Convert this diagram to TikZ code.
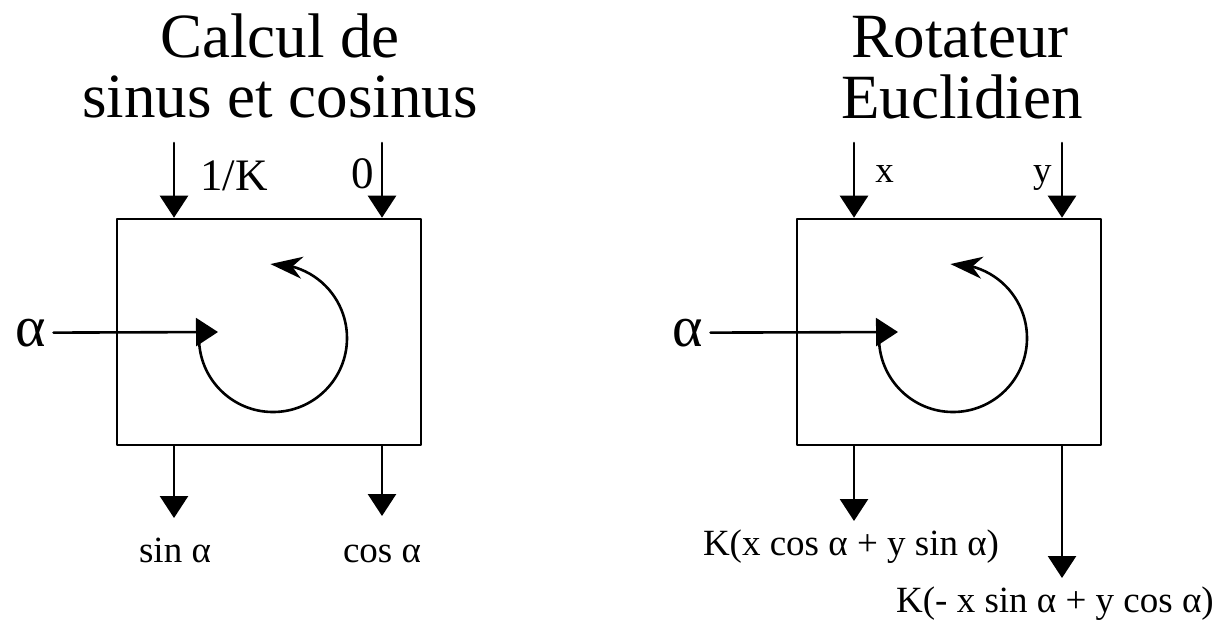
\documentclass[tikz,border=0pt]{standalone}
\usepackage{fontspec}
\setmainfont{Liberation Serif}
\usetikzlibrary{arrows.meta,bending}

\begin{document}
\begin{tikzpicture}[x=0.5pt,y=-0.5pt,line cap=round,line join=round,line width=1.3pt,
  flow/.style={-{Triangle[length=11pt,width=14pt]}},
  turn/.style={-{Stealth[length=16pt,width=11pt,inset=5pt,flex]}},
  bloc/.style={draw,minimum width=152pt,minimum height=113pt,inner sep=0pt},
  titre/.style={font=\fontsize{31.5}{36}\selectfont,inner sep=0pt,anchor=base},
  entree/.style={font=\fontsize{22.5}{26}\selectfont,inner sep=0pt},
  sortie/.style={font=\fontsize{18.5}{22}\selectfont,inner sep=0pt},
  angle/.style={font=\fontsize{29}{32}\selectfont,inner sep=0pt,anchor=base}]
  \useasboundingbox (0,0) rectangle (1218,623);
  \node[titre] (titreA1) at (280,57) {Calcul de};
  \node[titre] (titreA2) at (280,117) {sinus et cosinus};
  \node[titre] (titreB1) at (960,57) {Rotateur};
  \node[titre] (titreB2) at (962,118) {Euclidien};
  \node[bloc] (blocA) at (269,332) {};
  \node[bloc] (blocB) at (949,332) {};
  \coordinate (inA1) at (174,143);
  \coordinate (inA2) at (382,143);
  \coordinate (inB1) at (854,143);
  \coordinate (inB2) at (1062,143);
  \coordinate (outA1) at (174,518);
  \coordinate (outA2) at (382,516);
  \coordinate (outB1) at (854,521);
  \coordinate (outB2) at (1062,578);
  \coordinate (tipA) at (218,332);
  \coordinate (tipB) at (898,332);
  \draw[flow] (inA1) -- (inA1 |- blocA.north);
  \draw[flow] (inA2) -- (inA2 |- blocA.north);
  \draw[flow] (inB1) -- (inB1 |- blocB.north);
  \draw[flow] (inB2) -- (inB2 |- blocB.north);
  \draw[flow] (outA1 |- blocA.south) -- (outA1);
  \draw[flow] (outA2 |- blocA.south) -- (outA2);
  \draw[flow] (outB1 |- blocB.south) -- (outB1);
  \draw[flow] (outB2 |- blocB.south) -- (outB2);
  \node[angle] (alphaA) at (31,346) {α};
  \node[angle] (alphaB) at (688,346) {α};
  \draw[flow] ([xshift=3pt]alphaA.east) -- (tipA);
  \draw[flow] ([xshift=3pt]alphaB.east) -- (tipB);
  \draw[turn] (199,338) arc[start angle=180,end angle=-92,radius=74];
  \draw[turn] (879,338) arc[start angle=180,end angle=-92,radius=74];
  \node[entree,anchor=base west] (lblK) at (199,190) {1/K};
  \node[entree,anchor=base east] (lblZero) at (375,188) {0};
  \node[sortie,anchor=base west] (lblX) at (874,182) {x};
  \node[sortie,anchor=base east] (lblY) at (1053,182) {y};
  \node[sortie,anchor=base] (lblSin) at (175,562) {sin α};
  \node[sortie,anchor=base] (lblCos) at (382,562) {cos α};
  \node[sortie,anchor=base] (lblRotX) at (851,555) {K(x cos α + y sin α)};
  \node[sortie,anchor=base east] (lblRotY) at (1215,612) {K(- x sin α + y cos α)};
\end{tikzpicture}
\end{document}
